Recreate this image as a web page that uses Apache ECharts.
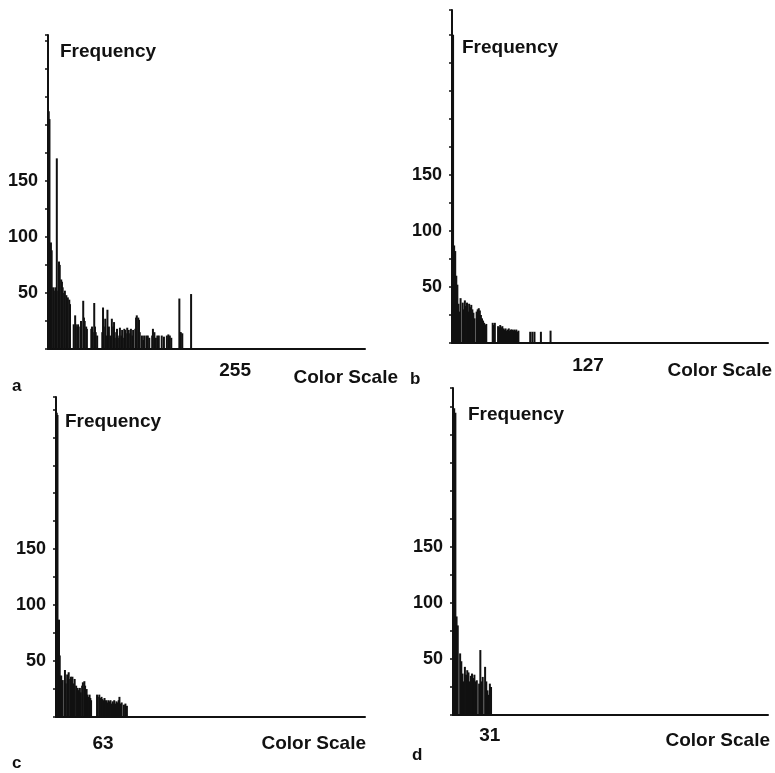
<!DOCTYPE html>
<html>
<head>
<meta charset="utf-8">
<title>color_scale_histograms</title>
<script src="https://cdn.jsdelivr.net/npm/echarts@6/dist/echarts.min.js"></script>
<style>
html, body { margin: 0; padding: 0; background: #fff; }
#main { width: 775px; height: 773px; }
</style>
</head>
<body>
<div id="main"></div>
<script>
// panel a : 256 levels
var binsA = [1,2,4,5,7,8,10,12,14,15,16,18,19,20,22,23,25,26,27,29,30,35,37,38,40,41,44,45,48,49,50,52,53,59,60,61,63,64,65,67,74,75,76,78,79,81,82,83,85,87,89,90,91,93,94,95,97,98,100,101,102,104,105,106,108,109,110,112,113,115,116,119,120,121,123,124,125,128,130,131,134,135,136,138,142,143,145,147,149,150,151,155,158,162,164,166,168,179,180,181,183,195];
var countsA = [212,205,95,88,55,52,55,170,52,78,75,62,60,55,50,52,48,45,46,44,40,22,30,22,20,22,20,25,43,28,25,20,18,18,20,15,41,20,15,12,15,37,20,27,12,35,15,20,12,27,20,24,15,10,18,12,10,19,12,17,10,18,17,14,19,12,17,14,18,12,17,18,28,30,28,26,15,12,8,12,12,9,12,10,12,18,15,10,12,9,12,12,11,12,13,12,10,45,15,15,14,49];
// panel b : 128 levels
var binsB = [0,1,2,3,4,5,6,7,8,10,11,12,13,14,15,16,17,18,19,20,21,23,24,25,26,27,28,29,30,31,32,38,39,40,43,44,45,46,47,48,49,50,51,52,53,54,55,56,57,58,59,60,61,62,73,75,77,83,92];
var countsB = [278,275,87,82,60,52,35,28,40,36,30,38,33,36,28,35,32,34,30,27,22,28,30,31,29,25,22,20,18,16,17,18,16,18,15,14,16,14,15,13,12,13,11,12,13,11,12,12,11,12,11,12,10,11,10,10,10,10,11];
// panel c : 64 levels
var binsC = [0,1,2,4,5,6,7,8,9,12,13,15,16,17,19,20,21,22,24,25,27,29,30,32,33,35,36,38,39,41,42,43,45,46,47,55,56,58,59,61,62,63,65,66,67,69,70,72,73,74,76,77,78,80,81,82,84,85,86,88,91,93,95];
var countsC = [275,272,270,87,55,37,37,30,33,42,30,38,36,40,34,36,33,36,30,34,28,26,24,26,22,28,31,32,28,25,20,18,20,17,15,20,18,20,17,18,16,15,17,14,15,13,15,14,15,12,14,12,15,12,14,13,15,18,12,13,11,12,10];
// panel d : 32 levels
var binsD = [0,1,2,3,4,6,7,8,9,10,11,12,13,14,15,16,17,18,19,20,22,23,24,25,27,28,29,30,31,32];
var countsD = [276,274,270,88,80,55,48,37,30,43,36,40,38,30,35,37,33,36,30,31,28,58,30,34,43,30,22,18,28,25];

var yTickLabels = [50, 100, 150];
var xEndLabels = [255, 127, 63, 31];
var panelNames = ['a', 'b', 'c', 'd'];

// layout of the four panels
var panels = [
    {left: 48, top: 35, width: 317, height: 314, xMax: 432, yMax: 280, nameGap: -17, namePad: 12, csGap: 33, csPad: 19, lblMargin: 12, letter: [7, 373]},
    {left: 452, top: 10, width: 316, height: 333, xMax: 295, yMax: 297, nameGap: -38, namePad: 10, csGap: 4, csPad: 18, lblMargin: 13, letter: [405, 366]},
    {left: 56, top: 397, width: 309, height: 320, xMax: 414, yMax: 286, nameGap: -25, namePad: 9, csGap: 1, csPad: 17, lblMargin: 17, letter: [7, 750]},
    {left: 453, top: 388, width: 315, height: 327, xMax: 265, yMax: 292, nameGap: -27, namePad: 15, csGap: 2, csPad: 16, lblMargin: 11, letter: [407, 742]}
];
var allBins = [binsA, binsB, binsC, binsD];
var allCounts = [countsA, countsB, countsC, countsD];

var ink = '#111';
var fontFam = '"Liberation Sans", Arial, sans-serif';

var grids = [], xAxes = [], yAxes = [], series = [], titles = [];
panels.forEach(function (p, i) {
    grids.push({left: p.left, top: p.top, width: p.width, height: p.height, containLabel: false, outerBoundsMode: 'none'});
    xAxes.push({
        type: 'value', gridIndex: i, min: 0, max: p.xMax,
        name: 'Color Scale', nameLocation: 'end', nameGap: p.csGap, nameMoveOverlap: false,
        nameTextStyle: {fontFamily: fontFam, fontSize: 19, fontWeight: 'bold', color: ink, align: 'right', verticalAlign: 'top', lineHeight: 19, padding: [p.csPad, 0, 0, 0]},
        axisLine: {lineStyle: {color: ink, width: 2}},
        axisTick: {show: false},
        splitLine: {show: false},
        axisLabel: {customValues: [xEndLabels[i]], margin: p.lblMargin, fontFamily: fontFam, fontSize: 19, fontWeight: 'bold', color: ink}
    });
    yAxes.push({
        type: 'value', gridIndex: i, min: 0, max: p.yMax, interval: 25,
        name: 'Frequency', nameLocation: 'end', nameGap: p.nameGap, nameMoveOverlap: false,
        nameTextStyle: {fontFamily: fontFam, fontSize: 19, fontWeight: 'bold', color: ink, align: 'left', verticalAlign: 'middle', padding: [0, 0, 0, p.namePad]},
        axisLine: {lineStyle: {color: ink, width: 2}},
        axisTick: {show: true, length: 3, lineStyle: {color: ink, width: 1.5}},
        splitLine: {show: false},
        axisLabel: {customValues: yTickLabels, margin: 10, fontFamily: fontFam, fontSize: 18, fontWeight: 'bold', color: ink}
    });
    series.push({
        type: 'bar', xAxisIndex: i, yAxisIndex: i,
        barWidth: 2,
        itemStyle: {color: ink},
        silent: true,
        data: allBins[i].map(function (b, k) { return [b, allCounts[i][k]]; })
    });
    titles.push({text: panelNames[i], left: p.letter[0], top: p.letter[1], textStyle: {fontFamily: fontFam, fontSize: 17, fontWeight: 'bold', color: ink}});
});

var myChart = echarts.init(document.getElementById('main'));
myChart.setOption({
    backgroundColor: '#fff',
    animation: false,
    title: titles,
    grid: grids,
    xAxis: xAxes,
    yAxis: yAxes,
    series: series
});
</script>
</body>
</html>
